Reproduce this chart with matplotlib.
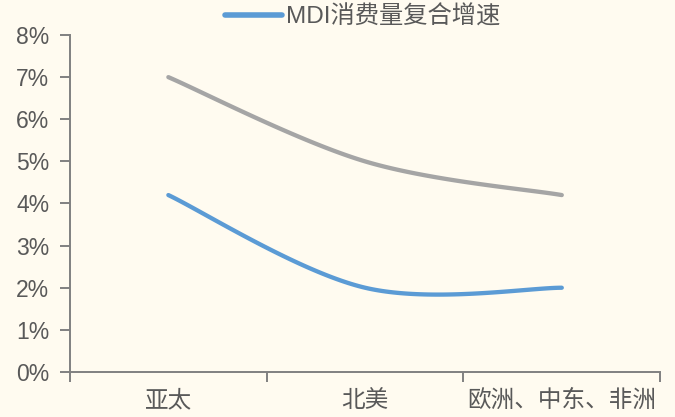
import numpy as np
import matplotlib
matplotlib.use('Agg')
import matplotlib.pyplot as plt
from matplotlib.ticker import FuncFormatter, FixedLocator

plt.rcParams['font.family'] = ['Liberation Sans', 'Noto Sans CJK SC', 'DejaVu Sans']

# regions and growth rates (%)
regions = ['亚太', '北美', '欧洲、中东、非洲']
mdi_growth = [4.2, 2.0, 2.0]
other_growth = [7.0, 5.0, 4.2]
series_label = 'MDI消费量复合增速'

bg = '#FFFBF0'
text_color = '#595959'
axis_color = '#808080'


def smooth(xs, ys, n=60):
    # Excel-style smoothed line: cubic Bezier through the points,
    # control handles taken from neighbouring points (1/6 factor)
    pts = np.column_stack([xs, ys]).astype(float)
    out = []
    for i in range(len(pts) - 1):
        p0 = pts[max(i - 1, 0)]
        p1 = pts[i]
        p2 = pts[i + 1]
        p3 = pts[min(i + 2, len(pts) - 1)]
        c1 = p1 + (p2 - p0) / 6
        c2 = p2 - (p3 - p1) / 6
        t = np.linspace(0, 1, n)[:, None]
        seg = ((1 - t) ** 3 * p1 + 3 * (1 - t) ** 2 * t * c1
               + 3 * (1 - t) * t ** 2 * c2 + t ** 3 * p2)
        out.append(seg if i == 0 else seg[1:])
    curve = np.vstack(out)
    return curve[:, 0], curve[:, 1]


fig = plt.figure(figsize=(6.75, 4.17), dpi=100, facecolor=bg)
ax = fig.add_axes([0.1037, 0.108, 0.8743, 0.808])
ax.set_facecolor(bg)

x = np.arange(len(regions))
gx, gy = smooth(x, other_growth)
bx, by = smooth(x, mdi_growth)
ax.plot(gx, gy, color='#A5A5A5', lw=3.1, solid_capstyle='round')
line, = ax.plot(bx, by, color='#5B9BD5', lw=3.1, solid_capstyle='round',
                label=series_label)

ax.set_xlim(-0.5, len(regions) - 0.5)
ax.set_ylim(0, 8)
ax.yaxis.set_major_locator(FixedLocator(np.arange(0, 9)))
ax.yaxis.set_major_formatter(FuncFormatter(lambda v, p: f'{v:.0f}%'))

# category labels sit between the boundary ticks
ax.xaxis.set_major_locator(FixedLocator(np.arange(-0.5, len(regions), 1.0)))
ax.xaxis.set_major_formatter(FuncFormatter(lambda v, p: ''))
ax.set_xticks(x, minor=True)
ax.set_xticklabels(regions, minor=True)
ax.tick_params(axis='x', which='minor', length=0, pad=13,
               labelsize=17, labelcolor=text_color)
ax.tick_params(axis='x', which='major', length=7, width=1.4, color=axis_color)
ax.tick_params(axis='y', length=7, width=1.4, color=axis_color,
               labelsize=16.5, labelcolor=text_color, pad=8)

for s in ['top', 'right']:
    ax.spines[s].set_visible(False)
for s in ['left', 'bottom']:
    ax.spines[s].set_color(axis_color)
    ax.spines[s].set_linewidth(1.4)

leg = fig.legend(handles=[line], loc='center left', bbox_to_anchor=(0.333, 0.959),
                 frameon=False, fontsize=17.5, handlelength=2.35, handletextpad=0.15,
                 borderpad=0, borderaxespad=0, labelcolor=text_color)
leg.get_lines()[0].set_linewidth(4)

fig.savefig('out.png', dpi=100, facecolor=bg)
